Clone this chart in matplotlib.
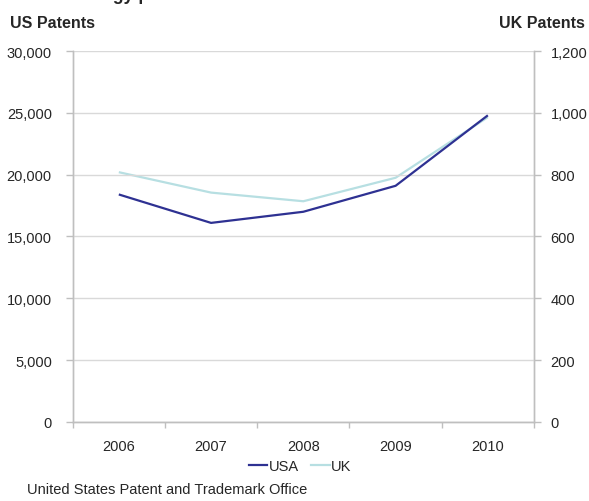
import matplotlib
matplotlib.use("Agg")
import matplotlib.pyplot as plt
from matplotlib.ticker import FuncFormatter, FixedLocator
from matplotlib.lines import Line2D

plt.rcParams['font.family'] = ['Liberation Sans', 'DejaVu Sans']

years = ["2006", "2007", "2008", "2009", "2010"]
usa_patents = [18400, 16100, 17000, 19100, 24800]
uk_patents = [808, 742, 714, 790, 986]

usa_color = "#2e3192"
uk_color = "#b7dfe2"
grid_color = "#d9d9d9"
axis_color = "#bfbfbf"
text_color = "#262626"

fig = plt.figure(figsize=(5.89, 5.02), dpi=100)
ax = fig.add_axes([0.1234, 0.1574, 0.9066 - 0.1234, 0.8964 - 0.1574])
ax2 = ax.twinx()

x = list(range(len(years)))
ax.plot(x, usa_patents, color=usa_color, lw=1.6, zorder=3, solid_capstyle='butt')
ax2.plot(x, uk_patents, color=uk_color, lw=1.6, zorder=2, solid_capstyle='butt')
ax.set_zorder(ax2.get_zorder() + 1)
ax.patch.set_visible(False)

ax.set_xlim(-0.5, len(years) - 0.5)
ax.set_ylim(0, 30000)
ax2.set_ylim(0, 1200)
ax.set_yticks(range(0, 30001, 5000))
ax2.set_yticks(range(0, 1201, 200))
fmt = FuncFormatter(lambda v, p: f"{int(v):,}")
ax.yaxis.set_major_formatter(fmt)
ax2.yaxis.set_major_formatter(fmt)

# category boundaries get the tick marks, labels sit at the centres
ax.xaxis.set_major_locator(FixedLocator([i - 0.5 for i in range(len(years) + 1)]))
ax.xaxis.set_minor_locator(FixedLocator(x))
ax.set_xticklabels([])
ax.set_xticklabels(years, minor=True)
ax.tick_params(axis='x', which='major', length=4, width=1, color=axis_color)
ax.tick_params(axis='x', which='minor', length=0, pad=12, labelsize=10.5, labelcolor=text_color)

ax.grid(axis='y', color=grid_color, lw=1)
ax.set_axisbelow(True)
ax.tick_params(axis='y', length=5, width=1, color=axis_color, pad=10, labelsize=10.5, labelcolor=text_color)
ax2.tick_params(axis='y', length=5, width=1, color=axis_color, pad=7, labelsize=10.5, labelcolor=text_color)

for a in (ax, ax2):
    for s in a.spines.values():
        s.set_color(axis_color)
        s.set_linewidth(1)
    a.spines['top'].set_visible(False)

fig.text(10 / 589, 1 - 24 / 502, "US Patents", fontsize=11.5, fontweight='bold',
         color=text_color, ha='left', va='center')
fig.text(585 / 589, 1 - 24 / 502, "UK Patents", fontsize=11.5, fontweight='bold',
         color=text_color, ha='right', va='center')
# chart title sits just above the top edge; only its descenders reach into the figure
fig.text(10 / 589, 1.0, "Biotechnology patents", fontsize=12.8, fontweight='bold',
         color=text_color, ha='left', va='baseline')

handles = [Line2D([], [], color=usa_color, lw=1.6), Line2D([], [], color=uk_color, lw=1.6)]
fig.legend(handles, ["USA", "UK"], loc='center', bbox_to_anchor=(300 / 589, 1 - 467 / 502),
           ncol=2, frameon=False, fontsize=10.5, handlelength=1.3, handletextpad=0.1,
           columnspacing=0.8, labelcolor=text_color)

fig.text(27 / 589, 1 - 490 / 502, "United States Patent and Trademark Office", fontsize=10.5,
         color=text_color, ha='left', va='center')

fig.savefig("out.png", dpi=100)
